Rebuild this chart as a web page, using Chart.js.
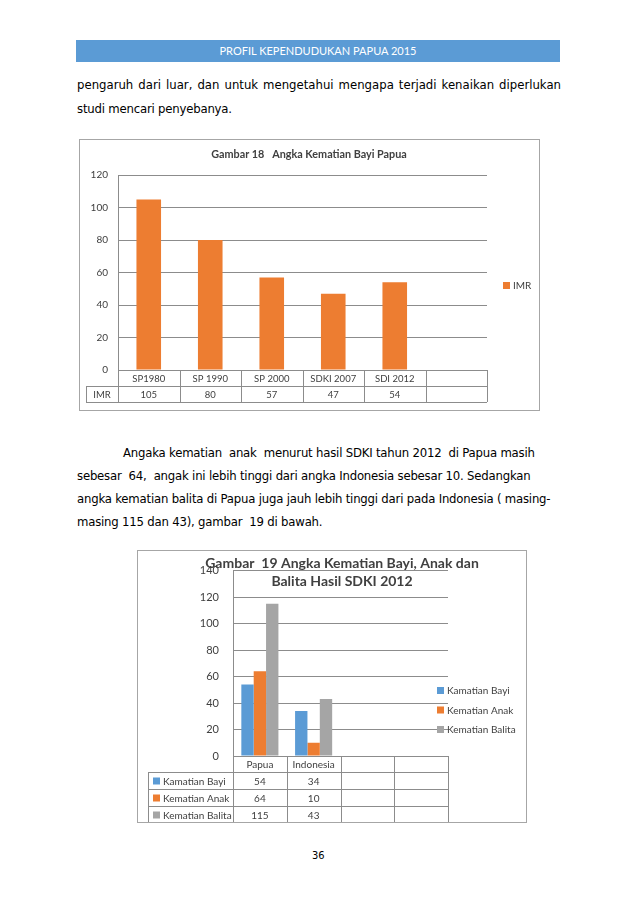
<!DOCTYPE html>
<html>
<head>
<meta charset="utf-8">
<script src="https://cdn.jsdelivr.net/npm/chart.js@4.4.0/dist/chart.umd.min.js"></script>
<style>
body { margin: 0; background: #fff; }
#page { position: relative; width: 638px; height: 903px; overflow: hidden; font-family: "DejaVu Sans Condensed", "DejaVu Sans", sans-serif; color: #000; }
.hdr { position: absolute; left: 76px; top: 40px; width: 484px; height: 22px; background: #5b9bd5; color: #fff; font: 11px Lato, sans-serif; text-align: center; line-height: 22px; }
.ln { position: absolute; left: 77px; font-size: 13px; line-height: 16px; letter-spacing: -0.2px; white-space: pre; }
.just { white-space: normal; width: 484px; letter-spacing: 0; text-align: justify; text-align-last: justify; }
.box { position: absolute; border: 1px solid #a6a6a6; pointer-events: none; }
canvas { position: absolute; }
</style>
</head>
<body>
<div id="page">
  <div class="hdr">PROFIL KEPENDUDUKAN PAPUA 2015</div>
  <div class="ln just" style="top:77px">pengaruh dari luar, dan untuk mengetahui mengapa terjadi kenaikan diperlukan</div>
  <div class="ln" style="top:101px">studi mencari penyebanya.</div>

  <canvas id="chart18" width="461" height="272" style="left:79px;top:139px"></canvas>
  <div class="box" style="left:79px;top:139px;width:459px;height:270px"></div>

  <div class="ln" style="top:445px;left:123px">Angaka kematian  anak  menurut hasil SDKI tahun 2012  di Papua masih</div>
  <div class="ln" style="top:468px">sebesar  64,  angak ini lebih tinggi dari angka Indonesia sebesar 10. Sedangkan</div>
  <div class="ln" style="top:491px">angka kematian balita di Papua juga jauh lebih tinggi dari pada Indonesia ( masing-</div>
  <div class="ln" style="top:514px">masing 115 dan 43), gambar  19 di bawah.</div>

  <canvas id="chart19" width="390" height="273" style="left:137px;top:550px"></canvas>
  <div class="box" style="left:137px;top:550px;width:388px;height:271px"></div>

  <div class="ln" style="top:848px;left:312px;font-size:11px;letter-spacing:0">36</div>
</div>

<script>
// Gambar 18 data
const periods = ['SP1980', 'SP 1990', 'SP 2000', 'SDKI 2007', 'SDI 2012', ''];
const imr = [105, 80, 57, 47, 54, null];
const imrTicks = [0, 20, 40, 60, 80, 100, 120];

// Gambar 19 data
const regions = ['Papua', 'Indonesia', '', ''];
const kematianBayi = [54, 34, null, null];
const kematianAnak = [64, 10, null, null];
const kematianBalita = [115, 43, null, null];
const sdkiTicks = [0, 20, 40, 60, 80, 100, 120, 140];

const FONT = 'Lato, "Liberation Sans", sans-serif';
const LINE = '#8c8c8c';
const TXT = '#404040';

function hline(ctx, x1, x2, y) {
    ctx.beginPath();
    ctx.moveTo(x1, Math.round(y) + 0.5);
    ctx.lineTo(x2, Math.round(y) + 0.5);
    ctx.stroke();
}
function vline(ctx, x, y1, y2) {
    ctx.beginPath();
    ctx.moveTo(Math.round(x) + 0.5, y1);
    ctx.lineTo(Math.round(x) + 0.5, y2);
    ctx.stroke();
}

// excel-like data table under the x axis
const sheetTable = {
    id: 'sheetTable',
    afterDraw(chart, args, o) {
        const ctx = chart.ctx, a = chart.chartArea;
        const labels = chart.data.labels, sets = chart.data.datasets;
        const cw = (a.right - a.left) / labels.length;
        const top = a.bottom, rowTop = top + o.headH;
        const bottom = rowTop + o.rowH * sets.length;
        ctx.save();
        ctx.strokeStyle = LINE;
        ctx.lineWidth = 1;
        hline(ctx, a.left, a.right, top);
        for (let r = 0; r <= sets.length; r++) hline(ctx, o.labelLeft, a.right, rowTop + r * o.rowH);
        for (let i = 0; i <= labels.length; i++) vline(ctx, a.left + i * cw, top, bottom);
        vline(ctx, o.labelLeft, rowTop, bottom);
        ctx.fillStyle = TXT;
        ctx.font = o.fontSize + 'px ' + FONT;
        ctx.textAlign = 'center';
        ctx.textBaseline = 'middle';
        labels.forEach((l, i) => ctx.fillText(l, a.left + (i + 0.5) * cw, top + o.headH / 2 + 1));
        sets.forEach((ds, r) => {
            const cy = rowTop + (r + 0.5) * o.rowH + 1;
            ds.data.forEach((v, i) => {
                if (v !== null) ctx.fillText(String(v), a.left + (i + 0.5) * cw, cy);
            });
            if (o.keys) {
                ctx.fillStyle = ds.backgroundColor;
                ctx.fillRect(o.labelLeft + 5, cy - 4, 7, 7);
                ctx.fillStyle = TXT;
                ctx.textAlign = 'left';
                ctx.fillText(ds.label, o.labelLeft + 15, cy);
                ctx.textAlign = 'center';
            } else {
                ctx.fillText(ds.label, (o.labelLeft + a.left) / 2, cy);
            }
        });
        ctx.restore();
    }
};

const sheetLegend = {
    id: 'sheetLegend',
    afterDraw(chart, args, o) {
        const ctx = chart.ctx;
        ctx.save();
        ctx.font = o.fontSize + 'px ' + FONT;
        ctx.textBaseline = 'middle';
        chart.data.datasets.forEach((ds, i) => {
            const y = o.y + i * o.gap;
            ctx.fillStyle = ds.backgroundColor;
            ctx.fillRect(o.x, y - 3, 7, 7);
            ctx.fillStyle = TXT;
            ctx.fillText(ds.label, o.x + 10, y + 1);
        });
        ctx.restore();
    }
};

const sheetTitle = {
    id: 'sheetTitle',
    afterDraw(chart, args, o) {
        const ctx = chart.ctx;
        ctx.save();
        ctx.font = 'bold ' + o.fontSize + 'px ' + FONT;
        ctx.fillStyle = TXT;
        ctx.textAlign = 'center';
        ctx.textBaseline = 'middle';
        o.lines.forEach((t, i) => ctx.fillText(t, o.x, o.y + i * o.gap));
        ctx.restore();
    }
};

function yAxis(ticks, width, size, pad) {
    return {
        min: ticks[0],
        max: ticks[ticks.length - 1],
        afterBuildTicks: s => { s.ticks = ticks.map(v => ({ value: v })); },
        afterFit: s => { s.width = width; },
        ticks: { color: TXT, font: { family: FONT, size: size }, padding: pad },
        grid: { color: LINE, drawTicks: false },
        border: { display: true, color: LINE }
    };
}
function xAxis(height) {
    return {
        afterFit: s => { s.height = height; },
        ticks: { display: false },
        grid: { display: false },
        border: { display: false }
    };
}

new Chart(document.getElementById('chart18'), {
    type: 'bar',
    data: {
        labels: periods,
        datasets: [{
            label: 'IMR',
            data: imr,
            backgroundColor: '#ed7d31',
            barPercentage: 0.4,
            categoryPercentage: 1
        }]
    },
    options: {
        responsive: false,
        animation: false,
        layout: { padding: { left: 0, right: 53, top: 36, bottom: 8 } },
        scales: { x: xAxis(33), y: yAxis(imrTicks, 39, 10, 10) },
        plugins: {
            legend: { display: false },
            tooltip: { enabled: false },
            sheetTable: { headH: 16, rowH: 16, labelLeft: 7, fontSize: 9.5, keys: false },
            sheetLegend: { x: 424, y: 146, gap: 20, fontSize: 10 },
            sheetTitle: { lines: ['Gambar 18   Angka Kematian Bayi Papua'], x: 230, y: 16, gap: 0, fontSize: 10.8 }
        }
    },
    plugins: [sheetTable, sheetLegend, sheetTitle]
});

new Chart(document.getElementById('chart19'), {
    type: 'bar',
    data: {
        labels: regions,
        datasets: [
            { label: 'Kamatian Bayi', data: kematianBayi, backgroundColor: '#5b9bd5' },
            { label: 'Kematian Anak', data: kematianAnak, backgroundColor: '#ed7d31' },
            { label: 'Kematian Balita', data: kematianBalita, backgroundColor: '#a5a5a5' }
        ]
    },
    options: {
        responsive: false,
        animation: false,
        datasets: { bar: { barPercentage: 1, categoryPercentage: 0.69 } },
        layout: { padding: { left: 0, right: 79, top: 17, bottom: 0 } },
        scales: { x: xAxis(67), y: yAxis(sdkiTicks, 96, 11, 14) },
        plugins: {
            legend: { display: false },
            tooltip: { enabled: false },
            sheetTable: { headH: 16, rowH: 17, labelLeft: 11, fontSize: 10, keys: true },
            sheetLegend: { x: 300, y: 140, gap: 19.5, fontSize: 10 },
            sheetTitle: { lines: ['Gambar  19 Angka Kematian Bayi, Anak dan', 'Balita Hasil SDKI 2012'], x: 205, y: 13, gap: 18, fontSize: 14 }
        }
    },
    plugins: [sheetTable, sheetLegend, sheetTitle]
});
</script>
</body>
</html>
